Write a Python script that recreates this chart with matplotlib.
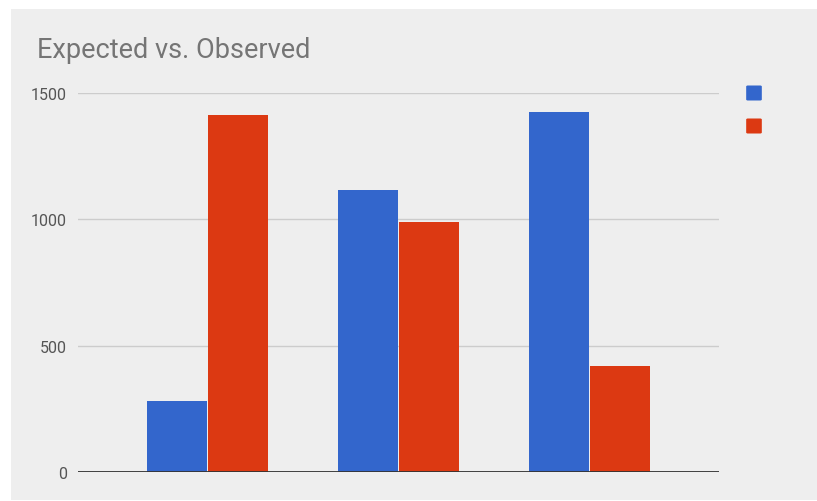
import numpy as np
import matplotlib
matplotlib.use("Agg")
import matplotlib.pyplot as plt
from matplotlib.patches import Rectangle, FancyBboxPatch

plt.rcParams["font.family"] = ["Roboto", "DejaVu Sans"]

# data
groups = ["A", "B", "C"]
expected = [282, 1115, 1425]
observed = [1413, 988, 421]
yticks = [0, 500, 1000, 1500]

series = [("Expected", expected, "#3366cc"),
          ("Observed", observed, "#dc3912")]

W, H = 817, 502
fig = plt.figure(figsize=(W / 100, H / 100), dpi=100)
fig.patch.set_facecolor("white")

# grey panel
fig.patches.append(Rectangle((11 / W, 1 / H), (W - 11) / W, (H - 11) / H,
                             transform=fig.transFigure, facecolor="#eeeeee",
                             edgecolor="none", zorder=-10))

ax = fig.add_axes([78 / W, (H - 473) / H, (719 - 78) / W, (473 - 94) / H])
ax.set_facecolor("none")

x = np.arange(len(groups))
bw = 0.313
gap = 0.006
for i, (name, vals, color) in enumerate(series):
    off = (i - 0.5) * (bw + gap)
    ax.bar(x + off, vals, width=bw, color=color, label=name, zorder=3)

ax.set_xlim(-0.675, 2.675)
ax.set_ylim(0, 1500)
ax.set_yticks(yticks)
ax.set_yticklabels([str(v) for v in yticks])
ax.set_xticks([])
ax.tick_params(axis="y", length=0, pad=8, labelsize=11.5, labelcolor="#555555")
for s in ax.spines.values():
    s.set_visible(False)
ax.grid(axis="y", color="#cccccc", linewidth=1, zorder=0)
ax.axhline(0, color="#333333", linewidth=1.3, zorder=4)

fig.text(37 / W, 1 - 50 / H, "Expected vs. Observed", fontsize=19.5,
         color="#757575", va="center", ha="left")

# legend squares (no text)
for i, (name, vals, color) in enumerate(series):
    yc = 94 + i * 33
    fig.patches.append(FancyBboxPatch((747 / W, 1 - (yc + 7) / H), 14 / W, 14 / H,
                                      boxstyle="round,pad=0.001,rounding_size=0.002",
                                      transform=fig.transFigure,
                                      facecolor=color, edgecolor="none"))

fig.savefig("out.png", dpi=100, facecolor=fig.get_facecolor())
